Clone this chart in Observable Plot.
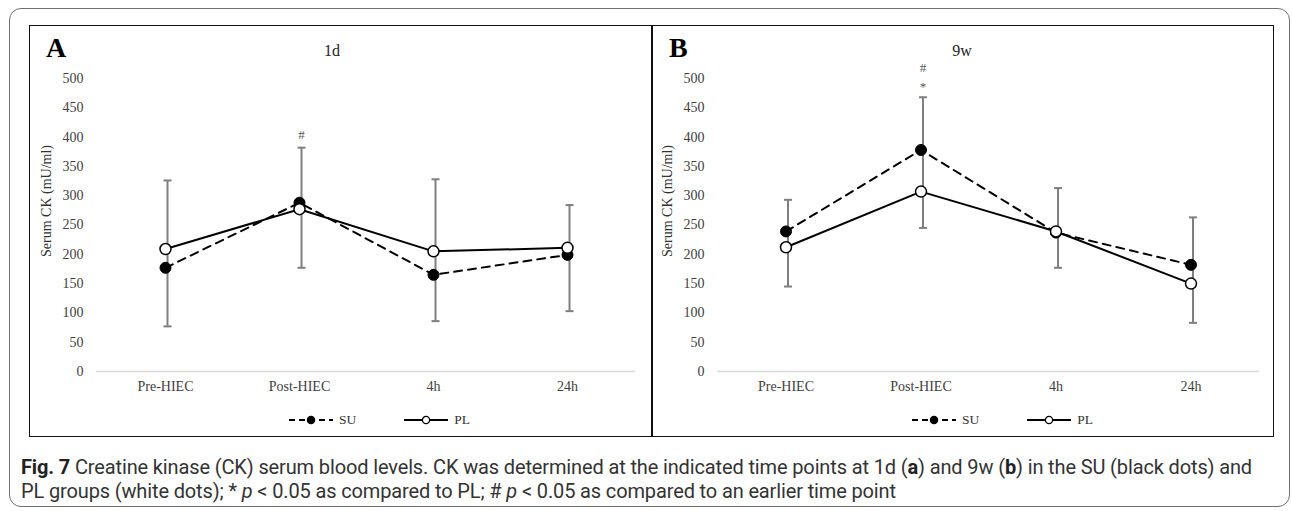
<!DOCTYPE html>
<html><head><meta charset="utf-8">
<script src="https://cdn.jsdelivr.net/npm/d3@7"></script>
<script src="https://cdn.jsdelivr.net/npm/@observablehq/plot@0.6"></script>
<style>
body{margin:0;background:#fff;}
#root{position:relative;width:1292px;height:511px;overflow:hidden;font-family:"Liberation Serif","Times New Roman",serif;}
.outer{position:absolute;left:9px;top:8px;width:1281px;height:499px;border:1.2px solid #707070;border-radius:12px;box-sizing:border-box;}
.frame{position:absolute;left:29px;top:25px;width:1245px;height:412px;border:1.6px solid #111;box-sizing:border-box;}
.divider{position:absolute;left:651px;top:25px;width:1.6px;height:412px;background:#111;}
.chart{position:absolute;top:25px;}
.letter{position:absolute;font-weight:bold;font-size:28px;line-height:28px;color:#000;}
.title{position:absolute;font-size:16px;line-height:16px;color:#222;transform:translateX(-50%);white-space:nowrap;}
.legend{position:absolute;top:412px;height:16px;display:flex;align-items:center;font-size:13.5px;color:#333;white-space:nowrap;}
.legend span{margin-left:6px;margin-right:0;}
.legend svg{display:block;}
.caption{position:absolute;left:21px;font-family:"Roboto",sans-serif;font-size:20px;line-height:24px;color:#333;white-space:nowrap;}
.caption b{color:#222;}
</style>
</head><body>
<div id="root">
  <div class="outer"></div>
  <div class="frame"></div>
  <div class="divider"></div>
  <div id="chartA" class="chart" style="left:29px"></div>
  <div id="chartB" class="chart" style="left:652px"></div>
  <div class="letter" style="left:46px;top:34px">A</div>
  <div class="letter" style="left:669px;top:34px">B</div>
  <div class="title" id="titleA" style="left:332px;top:43px"></div>
  <div class="title" id="titleB" style="left:962px;top:43px"></div>
  <div class="legend" id="legA" style="left:289px"></div>
  <div class="legend" id="legB" style="left:912px"></div>
  <div class="caption" id="cap1" style="top:455px"><b>Fig. 7</b> Creatine kinase (CK) serum blood levels. CK was determined at the indicated time points at 1d (<b>a</b>) and 9w (<b>b</b>) in the SU (black dots) and</div>
  <div class="caption" id="cap2" style="top:479px">PL groups (white dots); * <i>p</i> &lt; 0.05 as compared to PL; # <i>p</i> &lt; 0.05 as compared to an earlier time point</div>
</div>
<script>
// ---- data ----
const categories = ["Pre-HIEC", "Post-HIEC", "4h", "24h"];
const yTicks = [0, 50, 100, 150, 200, 250, 300, 350, 400, 450, 500];
const yLabel = "Serum CK (mU/ml)";
const seriesNames = ["SU", "PL"];
const panelTitles = ["1d", "9w"];

// 1d panel (A)
const su1d = [177, 288, 165, 199];
const pl1d = [209, 277, 205, 211];
const errLo1d = [77, 177, 86, 103];
const errHi1d = [326, 382, 328, 284];
const noteTime1d = ["Post-HIEC"];
const noteValue1d = [404];
const noteLabel1d = ["#"];

// 9w panel (B)
const su9w = [239, 378, 237, 182];
const pl9w = [212, 307, 239, 150];
const errLo9w = [145, 245, 177, 83];
const errHi9w = [293, 468, 313, 263];
const noteTime9w = ["Post-HIEC", "Post-HIEC"];
const noteValue9w = [519, 486];
const noteLabel9w = ["#", "*"];

// ---- drawing ----
const cap = {draw(ctx, size) { const w = Math.sqrt(size / Math.PI); ctx.moveTo(-w, 0); ctx.lineTo(w, 0); }};
const errColor = "#7f7f7f";

function chart(su, pl, lo, hi, nTime, nValue, nLabel, ml, mr) {
  const rows = categories.map((c, i) => ({time: c, su: su[i], pl: pl[i], lo: lo[i], hi: hi[i]}));
  const notes = nTime.map((t, i) => ({time: t, value: nValue[i], label: nLabel[i]}));
  return Plot.plot({
    width: 622, height: 412,
    marginTop: 53, marginBottom: 66, marginLeft: ml, marginRight: mr,
    style: {fontFamily: "'Liberation Serif', 'Times New Roman', serif", fontSize: "14px", color: "#404040", background: "transparent", overflow: "visible"},
    x: {type: "band", domain: categories, padding: 0, label: null},
    y: {domain: [0, 500], label: null},
    marks: [
      Plot.ruleY([0], {stroke: "#d9d9d9", strokeWidth: 1.5}),
      Plot.axisX({tickSize: 0, tickPadding: 10, label: null, fontSize: 14}),
      Plot.axisY({ticks: yTicks, tickSize: 0, tickPadding: 13, label: null, fontSize: 14}),
      Plot.ruleX(rows, {x: "time", y1: "lo", y2: "hi", stroke: errColor, strokeWidth: 2, dx: 2}),
      Plot.dot(rows, {x: "time", y: "lo", symbol: cap, r: 4, stroke: errColor, strokeWidth: 2, dx: 2}),
      Plot.dot(rows, {x: "time", y: "hi", symbol: cap, r: 4, stroke: errColor, strokeWidth: 2, dx: 2}),
      Plot.line(rows, {x: "time", y: "su", stroke: "#000", strokeWidth: 2, strokeDasharray: "8,6"}),
      Plot.line(rows, {x: "time", y: "pl", stroke: "#000", strokeWidth: 2}),
      Plot.dot(rows, {x: "time", y: "su", r: 5.5, fill: "#000", stroke: "#000", strokeWidth: 1}),
      Plot.dot(rows, {x: "time", y: "pl", r: 5.5, fill: "#fff", stroke: "#000", strokeWidth: 1.5}),
      Plot.text(notes, {x: "time", y: "value", text: "label", fill: "#555", fontSize: 13, dx: 2}),
      Plot.text([yLabel], {frameAnchor: "left", dx: -50, dy: 32, rotate: -90, fontSize: 14, fill: "#333"})
    ]
  });
}

document.getElementById("chartA").append(chart(su1d, pl1d, errLo1d, errHi1d, noteTime1d, noteValue1d, noteLabel1d, 67, 16));
document.getElementById("chartB").append(chart(su9w, pl9w, errLo9w, errHi9w, noteTime9w, noteValue9w, noteLabel9w, 65, 15));
document.getElementById("titleA").textContent = panelTitles[0];
document.getElementById("titleB").textContent = panelTitles[1];

function legend(el) {
  const ns = "http://www.w3.org/2000/svg";
  const make = (dashed, filled, name) => {
    const svg = document.createElementNS(ns, "svg");
    svg.setAttribute("width", 44); svg.setAttribute("height", 12);
    svg.innerHTML = `<line x1="0" x2="44" y1="6" y2="6" stroke="#000" stroke-width="2" ${dashed ? 'stroke-dasharray="6,4"' : ''}/>` +
      `<circle cx="22" cy="6" r="3.6" fill="${filled ? '#000' : '#fff'}" stroke="#000" stroke-width="1.3"/>`;
    el.append(svg);
    const s = document.createElement("span");
    s.textContent = name;
    el.append(s);
  };
  make(true, true, seriesNames[0]);
  const gap = document.createElement("div"); gap.style.width = "48px"; el.append(gap);
  make(false, false, seriesNames[1]);
}
legend(document.getElementById("legA"));
legend(document.getElementById("legB"));

// stretch first caption line to the reference's width
const c1 = document.getElementById("cap1");
const target = 1231;
const w = c1.getBoundingClientRect().width;
const chars = c1.textContent.length;
const ls = (target - w) / chars;
document.getElementById("cap1").style.letterSpacing = ls + "px";
document.getElementById("cap2").style.letterSpacing = ls + "px";
</script>
</body></html>
